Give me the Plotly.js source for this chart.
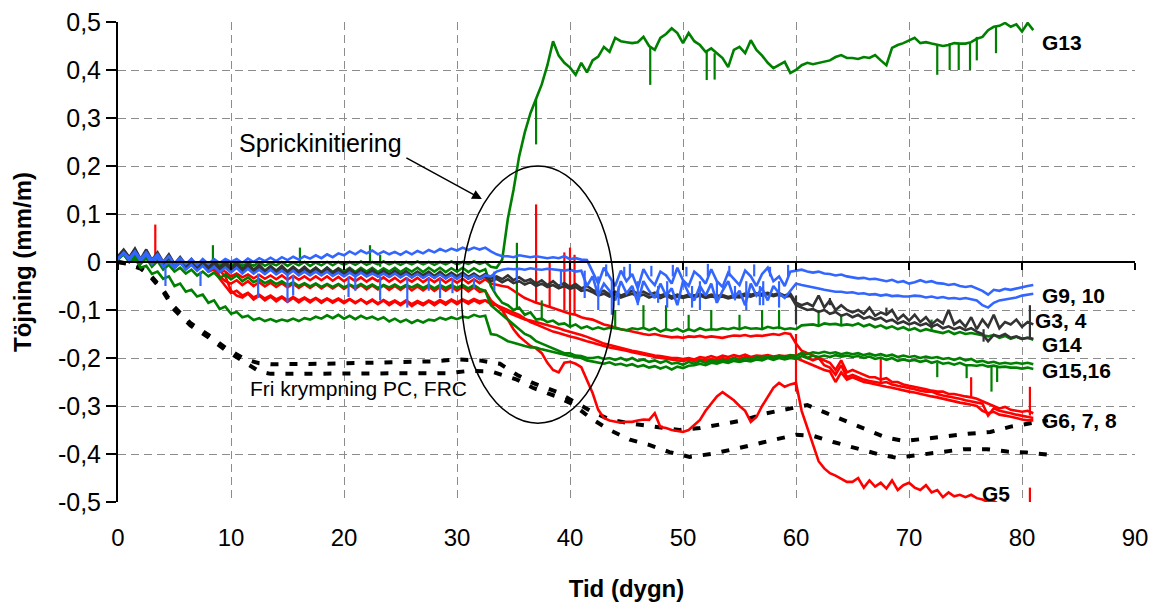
<!DOCTYPE html>
<html>
<head>
<meta charset="utf-8">
<script src="https://cdn.plot.ly/plotly-3.0.1.min.js"></script>
<style>html,body{margin:0;padding:0;background:#fff;}#chart{width:1157px;height:605px;}</style>
</head>
<body>
<div id="chart"></div>
<script>
// time axis (days)
const t = [0,0.5,1,1.5,2,2.5,3,3.5,4,4.5,5,5.5,6,6.5,7,7.5,8,8.5,9,9.5,10,10.5,11,11.5,12,12.5,13,13.5,14,14.5,15,15.5,16,16.5,17,17.5,18,18.5,19,19.5,20,20.5,21,21.5,22,22.5,23,23.5,24,24.5,25,25.5,26,26.5,27,27.5,28,28.5,29,29.5,30,30.5,31,31.5,32,32.5,33,33.5,34,34.5,35,35.5,36,36.5,37,37.5,38,38.5,39,39.5,40,40.5,41,41.5,42,42.5,43,43.5,44,44.5,45,45.5,46,46.5,47,47.5,48,48.5,49,49.5,50,50.5,51,51.5,52,52.5,53,53.5,54,54.5,55,55.5,56,56.5,57,57.5,58,58.5,59,59.5,60,60.5,61,61.5,62,62.5,63,63.5,64,64.5,65,65.5,66,66.5,67,67.5,68,68.5,69,69.5,70,70.5,71,71.5,72,72.5,73,73.5,74,74.5,75,75.5,76,76.5,77,77.5,78,78.5,79,79.5,80,80.5,81];

const G9 = [.005,.02,.008,.022,.006,.02,.004,.016,0,.012,
-.004,.008,-.004,.006,-.006,.006,-.004,.006,-.002,.006,
0,.006,-.002,.007,0,.008,.002,.009,.002,.01,
.004,.011,.005,.012,.007,.014,.008,.016,.01,.018,
.014,.022,.016,.024,.018,.024,.016,.022,.016,.021,
.015,.022,.016,.023,.018,.025,.02,.027,.022,.028,
.024,.03,.025,.03,.026,.03,.022,.016,.012,.012,
.01,.014,.012,.01,.012,.01,.008,.01,.008,.012,
.006,.008,.005,.004,-.02,-.045,-.012,-.03,-.05,-.018,
-.04,-.025,-.055,-.015,-.035,-.048,-.02,-.028,-.045,-.012,
-.038,-.05,-.02,-.03,-.045,-.015,-.04,-.052,-.022,-.035,
-.048,-.018,-.03,-.05,-.025,-.012,-.04,-.03,-.05,-.02,
-.018,-.016,-.02,-.022,-.02,-.024,-.025,-.028,-.026,-.03,
-.032,-.034,-.033,-.036,-.035,-.038,-.04,-.037,-.042,-.04,
-.045,-.042,-.038,-.042,-.04,-.044,-.045,-.048,-.046,-.05,
-.052,-.05,-.055,-.06,-.068,-.058,-.06,-.056,-.058,-.055,
-.052,-.05,-.048];

const G10 = [.008,.018,.004,.02,.002,.016,-.004,.01,-.01,0,
-.012,0,-.016,-.006,-.018,-.008,-.02,-.01,-.021,-.012,
-.022,-.012,-.024,-.014,-.024,-.016,-.025,-.016,-.026,-.018,
-.027,-.018,-.028,-.02,-.028,-.02,-.028,-.02,-.029,-.022,
-.03,-.022,-.03,-.022,-.03,-.024,-.03,-.024,-.031,-.024,
-.032,-.025,-.032,-.025,-.033,-.026,-.033,-.026,-.034,-.027,
-.035,-.026,-.034,-.028,-.035,-.028,-.03,-.02,-.016,-.014,
-.015,-.014,-.016,-.013,-.015,-.016,-.014,-.015,-.016,-.018,
-.016,-.02,-.018,-.05,-.03,-.07,-.045,-.06,-.08,-.04,
-.065,-.05,-.085,-.04,-.06,-.075,-.045,-.07,-.055,-.09,
-.04,-.065,-.08,-.05,-.07,-.045,-.085,-.06,-.04,-.075,
-.06,-.09,-.045,-.07,-.055,-.08,-.05,-.065,-.075,-.06,
-.045,-.048,-.05,-.052,-.055,-.058,-.06,-.062,-.062,-.064,
-.063,-.066,-.065,-.068,-.067,-.07,-.068,-.071,-.07,-.072,
-.072,-.07,-.071,-.074,-.072,-.075,-.073,-.076,-.075,-.077,
-.075,-.078,-.08,-.09,-.095,-.085,-.08,-.078,-.076,-.074,
-.07,-.068,-.066];

const G3 = [.012,.026,.01,.028,.006,.026,.004,.02,0,.016,
-.004,.01,-.006,.006,-.01,.004,-.012,.002,-.012,0,
-.014,-.002,-.015,-.004,-.016,-.006,-.018,-.008,-.018,-.008,
-.02,-.01,-.02,-.01,-.021,-.012,-.022,-.012,-.022,-.014,
-.024,-.014,-.024,-.016,-.025,-.016,-.026,-.018,-.026,-.018,
-.027,-.019,-.028,-.02,-.028,-.02,-.029,-.02,-.03,-.022,
-.03,-.022,-.031,-.024,-.032,-.025,-.034,-.03,-.036,-.028,
-.038,-.032,-.04,-.036,-.045,-.038,-.048,-.04,-.05,-.044,
-.052,-.046,-.055,-.05,-.058,-.064,-.06,-.068,-.062,-.07,
-.065,-.06,-.066,-.062,-.068,-.064,-.07,-.066,-.072,-.068,
-.072,-.068,-.07,-.066,-.072,-.068,-.071,-.069,-.073,-.07,
-.07,-.066,-.068,-.065,-.066,-.064,-.068,-.065,-.07,-.066,
-.085,-.09,-.086,-.092,-.07,-.095,-.08,-.1,-.09,-.1,
-.105,-.1,-.108,-.095,-.112,-.105,-.11,-.1,-.12,-.11,
-.122,-.11,-.125,-.115,-.13,-.12,-.128,-.1,-.13,-.122,
-.135,-.115,-.14,-.12,-.135,-.11,-.138,-.125,-.13,-.12,
-.135,-.125,-.13];

const G4 = [.01,.024,.008,.026,.004,.022,0,.016,-.004,.01,
-.008,.006,-.01,.002,-.014,0,-.015,-.002,-.016,-.004,
-.018,-.006,-.019,-.008,-.02,-.01,-.022,-.012,-.022,-.012,
-.024,-.014,-.024,-.014,-.025,-.016,-.026,-.016,-.026,-.018,
-.028,-.018,-.028,-.02,-.029,-.02,-.03,-.022,-.03,-.022,
-.031,-.023,-.032,-.024,-.032,-.024,-.033,-.024,-.034,-.026,
-.034,-.026,-.035,-.028,-.036,-.03,-.04,-.035,-.042,-.036,
-.044,-.04,-.047,-.042,-.05,-.045,-.052,-.048,-.055,-.05,
-.056,-.052,-.06,-.058,-.063,-.07,-.066,-.072,-.068,-.074,
-.07,-.066,-.072,-.068,-.074,-.07,-.075,-.07,-.076,-.072,
-.075,-.072,-.074,-.07,-.075,-.072,-.074,-.072,-.076,-.073,
-.074,-.07,-.072,-.068,-.07,-.067,-.071,-.068,-.073,-.07,
-.09,-.095,-.1,-.098,-.104,-.1,-.108,-.104,-.112,-.108,
-.115,-.11,-.118,-.114,-.12,-.116,-.124,-.12,-.128,-.124,
-.13,-.126,-.132,-.128,-.135,-.13,-.138,-.134,-.14,-.136,
-.142,-.138,-.145,-.15,-.165,-.152,-.155,-.15,-.158,-.155,
-.16,-.158,-.16];

const G13 = [.008,.02,.006,.022,.004,.018,.002,.014,-.002,.01,
-.004,.006,-.006,.004,-.008,.002,-.008,.002,-.008,0,
-.008,0,-.008,-.002,-.008,0,-.008,-.002,-.007,0,
-.008,-.001,-.007,0,-.008,-.001,-.007,0,-.007,0,
-.006,0,-.006,.001,-.006,0,-.005,.001,-.005,0,
-.006,0,-.005,.001,-.005,0,-.006,0,-.005,.001,
-.005,0,-.004,.001,-.004,0,-.01,-.012,.005,.09,
.15,.22,.27,.31,.34,.37,.41,.46,.43,.415,
.405,.39,.415,.395,.42,.428,.448,.438,.467,.46,
.458,.456,.458,.469,.45,.442,.467,.475,.487,.477,
.456,.477,.46,.452,.438,.445,.435,.425,.406,.442,
.448,.435,.462,.442,.43,.415,.404,.41,.417,.394,
.4,.41,.415,.412,.415,.418,.42,.427,.431,.425,
.425,.423,.427,.425,.431,.42,.41,.446,.452,.456,
.462,.467,.456,.458,.455,.452,.45,.452,.456,.455,
.455,.458,.465,.469,.483,.49,.492,.498,.49,.495,
.48,.498,.483];

const G14 = [.006,.018,.002,.018,-.002,.012,-.006,.006,-.01,.002,
-.012,-.002,-.014,-.004,-.015,-.006,-.016,-.006,-.017,-.008,
-.018,-.008,-.018,-.01,-.019,-.01,-.019,-.01,-.019,-.01,
-.02,-.012,-.02,-.012,-.02,-.012,-.021,-.012,-.021,-.013,
-.02,-.012,-.021,-.012,-.02,-.012,-.021,-.013,-.02,-.012,
-.021,-.013,-.02,-.012,-.021,-.012,-.02,-.012,-.021,-.013,
-.02,-.012,-.021,-.013,-.02,-.015,-.05,-.07,-.085,-.09,
-.1,-.095,-.11,-.105,-.12,-.118,-.125,-.122,-.13,-.128,
-.135,-.13,-.138,-.134,-.14,-.136,-.14,-.137,-.138,-.14,
-.142,-.138,-.14,-.137,-.142,-.138,-.145,-.14,-.143,-.139,
-.145,-.14,-.144,-.138,-.142,-.14,-.141,-.138,-.14,-.137,
-.14,-.136,-.139,-.138,-.14,-.135,-.138,-.136,-.14,-.138,
-.14,-.132,-.131,-.13,-.133,-.128,-.13,-.129,-.132,-.13,
-.132,-.128,-.134,-.13,-.136,-.132,-.138,-.134,-.14,-.136,
-.142,-.138,-.144,-.14,-.143,-.145,-.148,-.144,-.15,-.146,
-.15,-.148,-.15,-.153,-.155,-.152,-.158,-.154,-.16,-.156,
-.16,-.158,-.162];

const G15 = [.005,.016,0,.014,-.004,.008,-.01,.002,-.016,-.006,
-.02,-.012,-.024,-.016,-.028,-.02,-.03,-.022,-.034,-.026,
-.036,-.028,-.04,-.032,-.042,-.036,-.044,-.038,-.046,-.04,
-.048,-.042,-.05,-.044,-.051,-.045,-.052,-.046,-.052,-.046,
-.053,-.047,-.052,-.046,-.053,-.047,-.054,-.048,-.053,-.047,
-.054,-.048,-.053,-.047,-.054,-.048,-.055,-.048,-.054,-.048,
-.054,-.048,-.055,-.048,-.056,-.06,-.09,-.1,-.11,-.12,
-.13,-.14,-.15,-.155,-.165,-.17,-.175,-.18,-.185,-.19,
-.19,-.195,-.196,-.2,-.2,-.198,-.202,-.2,-.204,-.2,
-.205,-.2,-.206,-.203,-.208,-.205,-.21,-.206,-.212,-.21,
-.214,-.208,-.212,-.206,-.21,-.205,-.208,-.204,-.206,-.2,
-.205,-.2,-.203,-.198,-.2,-.196,-.2,-.195,-.198,-.194,
-.196,-.19,-.192,-.188,-.19,-.187,-.19,-.188,-.192,-.189,
-.192,-.19,-.194,-.191,-.195,-.192,-.196,-.193,-.198,-.195,
-.198,-.196,-.2,-.197,-.2,-.198,-.202,-.2,-.204,-.2,
-.205,-.202,-.208,-.206,-.21,-.208,-.212,-.21,-.212,-.21,
-.212,-.21,-.213];

const G16 = [.008,.016,0,.008,-.012,-.008,-.025,-.02,-.035,-.03,
-.05,-.045,-.062,-.058,-.072,-.068,-.085,-.08,-.098,-.093,
-.108,-.104,-.115,-.112,-.121,-.117,-.123,-.119,-.124,-.12,
-.123,-.118,-.123,-.117,-.12,-.114,-.118,-.111,-.117,-.11,
-.118,-.112,-.119,-.112,-.118,-.114,-.12,-.115,-.124,-.118,
-.125,-.12,-.127,-.121,-.126,-.12,-.122,-.116,-.12,-.115,
-.119,-.114,-.116,-.11,-.114,-.112,-.15,-.152,-.158,-.165,
-.168,-.172,-.175,-.178,-.178,-.182,-.185,-.188,-.19,-.194,
-.196,-.198,-.2,-.205,-.207,-.21,-.212,-.209,-.214,-.212,
-.216,-.213,-.218,-.215,-.22,-.217,-.222,-.218,-.224,-.218,
-.221,-.216,-.215,-.212,-.215,-.21,-.212,-.208,-.21,-.206,
-.208,-.205,-.207,-.203,-.205,-.2,-.204,-.2,-.203,-.2,
-.202,-.196,-.2,-.195,-.198,-.195,-.198,-.194,-.197,-.195,
-.198,-.196,-.2,-.197,-.202,-.199,-.204,-.2,-.206,-.203,
-.206,-.204,-.208,-.205,-.21,-.207,-.212,-.21,-.214,-.21,
-.215,-.215,-.216,-.214,-.218,-.216,-.219,-.218,-.22,-.22,
-.222,-.22,-.223];

const G5 = [.01,.022,.006,.02,.002,.016,-.002,.014,-.006,.008,
-.01,.004,-.012,.002,-.014,0,-.016,-.002,-.018,-.03,
-.06,-.07,-.074,-.066,-.078,-.07,-.08,-.072,-.082,-.074,
-.083,-.075,-.084,-.076,-.084,-.076,-.085,-.077,-.085,-.078,
-.086,-.078,-.086,-.078,-.087,-.08,-.088,-.08,-.09,-.082,
-.09,-.082,-.092,-.084,-.09,-.082,-.09,-.082,-.089,-.08,
-.088,-.08,-.087,-.08,-.086,-.08,-.088,-.09,-.1,-.12,
-.14,-.155,-.165,-.175,-.18,-.19,-.21,-.225,-.23,-.21,
-.208,-.212,-.219,-.246,-.273,-.308,-.325,-.33,-.333,-.335,
-.333,-.333,-.33,-.328,-.329,-.315,-.344,-.346,-.35,-.352,
-.354,-.35,-.34,-.329,-.31,-.294,-.28,-.271,-.28,-.288,
-.3,-.31,-.333,-.323,-.3,-.28,-.262,-.252,-.26,-.255,
-.252,-.31,-.345,-.377,-.415,-.43,-.44,-.445,-.452,-.458,
-.458,-.45,-.47,-.455,-.468,-.46,-.472,-.455,-.475,-.465,
-.46,-.47,-.475,-.465,-.48,-.475,-.49,-.48,-.488,-.485,
-.49,-.485,-.492,-.495,-.5,-.498,-.505,-.5,-.51,-.505,
-.51,-.505,-.505];

const G6 = [.01,.024,.008,.022,.004,.018,0,.012,-.004,.008,
-.008,.004,-.01,0,-.012,-.002,-.014,-.004,-.016,-.02,
-.03,-.024,-.032,-.026,-.034,-.027,-.035,-.028,-.036,-.028,
-.037,-.029,-.037,-.03,-.038,-.03,-.038,-.03,-.039,-.031,
-.04,-.032,-.04,-.032,-.041,-.033,-.04,-.032,-.041,-.033,
-.042,-.034,-.041,-.033,-.042,-.034,-.042,-.034,-.043,-.035,
-.043,-.035,-.044,-.036,-.044,-.036,-.045,-.048,-.05,-.052,
-.06,-.068,-.075,-.08,-.085,-.088,-.092,-.096,-.1,-.104,
-.108,-.11,-.115,-.118,-.12,-.125,-.13,-.133,-.137,-.14,
-.142,-.145,-.148,-.15,-.152,-.15,-.153,-.155,-.157,-.156,
-.158,-.155,-.156,-.154,-.157,-.155,-.156,-.158,-.155,-.153,
-.154,-.152,-.155,-.153,-.154,-.152,-.15,-.152,-.148,-.15,
-.17,-.185,-.19,-.195,-.2,-.205,-.21,-.225,-.205,-.23,
-.225,-.23,-.235,-.24,-.24,-.245,-.242,-.25,-.25,-.255,
-.258,-.26,-.262,-.265,-.268,-.27,-.27,-.275,-.275,-.278,
-.28,-.282,-.285,-.29,-.295,-.3,-.305,-.302,-.308,-.31,
-.312,-.31,-.315];

const G7 = [.01,.022,.006,.02,.002,.016,-.002,.01,-.006,.006,
-.01,.002,-.012,-.002,-.014,-.004,-.018,-.01,-.03,-.04,
-.045,-.038,-.048,-.04,-.05,-.042,-.051,-.043,-.052,-.044,
-.053,-.045,-.054,-.046,-.054,-.046,-.055,-.047,-.055,-.047,
-.056,-.048,-.056,-.048,-.057,-.049,-.057,-.049,-.058,-.05,
-.058,-.05,-.059,-.051,-.059,-.051,-.06,-.052,-.06,-.052,
-.06,-.052,-.061,-.053,-.062,-.06,-.08,-.09,-.1,-.105,
-.11,-.115,-.12,-.122,-.125,-.128,-.131,-.135,-.138,-.142,
-.145,-.148,-.152,-.156,-.16,-.165,-.17,-.173,-.176,-.18,
-.182,-.185,-.187,-.19,-.192,-.195,-.196,-.198,-.2,-.2,
-.202,-.2,-.203,-.198,-.2,-.196,-.2,-.195,-.198,-.194,
-.197,-.193,-.198,-.195,-.196,-.194,-.197,-.195,-.196,-.195,
-.195,-.19,-.2,-.205,-.2,-.215,-.22,-.235,-.215,-.24,
-.235,-.24,-.245,-.248,-.25,-.252,-.25,-.255,-.258,-.26,
-.262,-.265,-.268,-.27,-.27,-.275,-.278,-.28,-.282,-.285,
-.288,-.29,-.292,-.295,-.32,-.305,-.31,-.312,-.315,-.318,
-.32,-.322,-.325];

const G8 = [.012,.02,.004,.018,0,.014,-.004,.008,-.008,.004,
-.012,0,-.014,-.004,-.016,-.006,-.02,-.015,-.035,-.05,
-.065,-.06,-.07,-.064,-.074,-.068,-.076,-.07,-.078,-.072,
-.08,-.073,-.08,-.074,-.081,-.075,-.082,-.076,-.082,-.076,
-.083,-.077,-.084,-.078,-.085,-.078,-.086,-.079,-.086,-.08,
-.087,-.08,-.088,-.081,-.087,-.08,-.086,-.079,-.085,-.078,
-.084,-.078,-.083,-.077,-.082,-.08,-.085,-.09,-.095,-.1,
-.105,-.11,-.118,-.125,-.13,-.135,-.14,-.145,-.148,-.152,
-.155,-.158,-.162,-.165,-.168,-.172,-.175,-.178,-.18,-.183,
-.185,-.188,-.19,-.193,-.195,-.198,-.2,-.202,-.204,-.205,
-.206,-.204,-.206,-.203,-.205,-.202,-.204,-.2,-.203,-.2,
-.202,-.198,-.2,-.197,-.2,-.198,-.2,-.196,-.199,-.197,
-.2,-.205,-.21,-.215,-.22,-.225,-.228,-.25,-.23,-.245,
-.24,-.245,-.25,-.252,-.255,-.258,-.26,-.262,-.265,-.268,
-.27,-.272,-.275,-.278,-.28,-.282,-.285,-.288,-.29,-.293,
-.295,-.298,-.3,-.31,-.315,-.312,-.318,-.32,-.322,-.325,
-.328,-.33,-.33];

// free shrinkage (dashed)
const pcX = [0,1,2,2.7,4,5,6.4,8,9.6,11.2,12.5,13.5,18,24,28,30,32,33.8,35.3,36.7,38.8,40.3,41.8,43.5,45.5,47.5,49.7,51.5,53.3,55.3,57.4,59.5,61,62.7,64.5,66.3,68,69.6,71.6,73.4,75.2,77.2,79,81,82.3];
const pcY = [0,-.004,-.012,-.023,-.058,-.094,-.127,-.152,-.18,-.202,-.211,-.213,-.212,-.21,-.207,-.203,-.205,-.212,-.235,-.252,-.27,-.29,-.31,-.328,-.337,-.343,-.35,-.346,-.338,-.33,-.315,-.304,-.298,-.315,-.333,-.35,-.366,-.373,-.367,-.362,-.358,-.354,-.343,-.335,-.33];
const frcX = [0,1,2,2.7,4,5,6.4,8,9.6,11.2,12.5,13.5,18,24,29,31,33,35.3,36.7,38.8,40.3,41.8,43.5,45.3,47,48.8,50.6,52.5,54.5,56.5,58.5,60,61.5,63.3,65.4,67.2,68.9,71,72.7,74.8,76.9,78.7,80.4,82.5];
const frcY = [0,-.005,-.014,-.026,-.062,-.1,-.132,-.157,-.185,-.21,-.228,-.233,-.232,-.232,-.232,-.227,-.228,-.245,-.262,-.28,-.297,-.325,-.35,-.37,-.381,-.396,-.406,-.4,-.39,-.38,-.368,-.36,-.362,-.375,-.388,-.4,-.408,-.402,-.396,-.39,-.39,-.395,-.397,-.402];

// single-sample spikes
const blueSpX = [4.2,7.3,12.4,15,15.5,20.4,21,23.2,25.6,27.5,28.5,29.6,31.5,33.3,35.3,39.2,41.3,42.5,43.7,46,48.6,51.5,53,55.6,57.1,58.5,43.2,44.8,45.3,47.2,49.1,50.3,52.2,54.1,56.3,57.7,59.3,44.3,47.8,50.8,54.6,56.8];
const blueSpFrom = [-.012,-.02,-.024,-.027,-.027,-.03,-.03,-.03,-.032,-.033,-.034,-.034,-.035,-.02,-.015,-.016,-.018,-.03,-.04,-.04,-.04,-.04,-.04,-.04,-.04,-.04,-.03,-.03,-.03,-.03,-.03,-.03,-.03,-.03,-.03,-.03,-.03,-.05,-.05,-.05,-.05,-.05];
const blueSpTo = [-.05,-.05,-.075,-.085,-.07,-.073,-.06,-.08,-.095,-.06,-.075,-.065,-.055,-.06,-.04,-.05,-.075,-.1,-.11,-.09,-.095,-.1,-.085,-.1,-.09,-.095,-.005,-.01,-.004,-.008,-.006,-.01,-.004,-.008,-.005,-.01,-.006,-.09,-.085,-.095,-.08,-.09];
const greenSpX = [8.4,16.1,22.3,23.2,35.3,37.5,40,44,46.5,48.5,50.5,52.5,55,57,58.5,62,64,72,37,47.1,52.1,52.8,72.5,73.6,74.4,75.4,76,77.7,72.5,75.1,77.3,77.8];
const greenSpFrom = [-.005,-.005,-.005,-.01,-.1,-.122,-.135,-.14,-.14,-.142,-.142,-.142,-.14,-.14,-.14,-.131,-.13,-.144,.34,.45,.438,.435,.452,.456,.456,.458,.469,.49,-.21,-.214,-.216,-.218];
const greenSpTo = [.035,.03,.035,.015,.04,-.08,-.11,-.1,-.09,-.09,-.11,-.1,-.11,-.1,-.1,-.1,-.11,-.12,.245,.369,.379,.38,.39,.40,.40,.40,.42,.435,-.24,-.242,-.27,-.25];
const redSpX = [3.3,37,38.2,39.5,40,40.4,60,67.5,75.5,80.7,80.7];
const redSpFrom = [0,-.085,-.092,-.1,-.108,-.11,-.15,-.25,-.28,-.32,-.5];
const redSpTo = [.078,.12,0,.02,.03,.015,-.27,-.2,-.24,-.26,-.47];
const darkSpX = [60,63,68,76.6,80.7];
const darkSpFrom = [-.07,-.09,-.11,-.14,-.16];
const darkSpTo = [-.13,-.075,-.095,-.166,-.09];

// ticks
const yTickVals = [-0.5,-0.4,-0.3,-0.2,-0.1,0,0.1,0.2,0.3,0.4,0.5];
const yTickText = ['-0,5','-0,4','-0,3','-0,2','-0,1','0','0,1','0,2','0,3','0,4','0,5'];
const xTickVals = [0,10,20,30,40,50,60,70,80,90];
const xTickText = ['0','10','20','30','40','50','60','70','80','90'];

const BLUE = '#3366FF', GREEN = '#008000', RED = '#FF0000', DARK = '#333333';
const LW = 2.6;

function line(y, color) {
  return {x: t, y: y, type: 'scatter', mode: 'lines', line: {color: color, width: LW}, hoverinfo: 'skip'};
}
function spikes(xs, a, b, color) {
  const x = [], y = [];
  for (let i = 0; i < xs.length; i++) { x.push(xs[i], xs[i], null); y.push(a[i], b[i], null); }
  return {x: x, y: y, type: 'scatter', mode: 'lines', line: {color: color, width: 2.2}, hoverinfo: 'skip'};
}
function dashed(x, y) {
  return {x: x, y: y, type: 'scatter', mode: 'lines', line: {color: '#000', width: 4, dash: '8px,11px'}, hoverinfo: 'skip'};
}

const data = [
  dashed(pcX, pcY), dashed(frcX, frcY),
  line(G5, RED), line(G6, RED), line(G7, RED), line(G8, RED), spikes(redSpX, redSpFrom, redSpTo, RED),
  line(G14, GREEN), line(G15, GREEN), line(G16, GREEN), line(G13, GREEN), spikes(greenSpX, greenSpFrom, greenSpTo, GREEN),
  line(G3, DARK), line(G4, DARK), spikes(darkSpX, darkSpFrom, darkSpTo, DARK),
  line(G10, BLUE), line(G9, BLUE), spikes(blueSpX, blueSpFrom, blueSpTo, BLUE),
  {x: [0], y: [0], xaxis: 'x2', type: 'scatter', mode: 'markers', marker: {opacity: 0}, hoverinfo: 'skip'}
];

const FONT = 'Arial, "Liberation Sans", sans-serif';
const labelFont = {family: FONT, size: 21, color: '#000', weight: 'bold'};

const layout = {
  width: 1157, height: 605,
  margin: {l: 118, r: 22, t: 22, b: 103},
  paper_bgcolor: '#fff', plot_bgcolor: '#fff',
  showlegend: false,
  font: {family: FONT, color: '#000'},
  xaxis: {
    range: [0, 90], tickvals: xTickVals, ticktext: xTickText,
    showgrid: true, gridcolor: '#8c8c8c', gridwidth: 1, griddash: '8px,5px',
    zeroline: false, showline: false,
    ticks: 'outside', ticklen: 14, tickcolor: 'rgba(0,0,0,0)',
    tickfont: {family: FONT, size: 24, color: '#000'},
    title: {text: 'Tid (dygn)', font: {family: FONT, size: 24, weight: 'bold', color: '#000'}, standoff: 30}
  },
  xaxis2: {
    overlaying: 'x', anchor: 'free', position: 0.5, side: 'bottom',
    range: [0, 90], tickvals: xTickVals,
    showline: true, linecolor: '#000', linewidth: 2,
    ticks: 'outside', ticklen: 7, tickwidth: 2, tickcolor: '#000',
    showticklabels: false, showgrid: false, zeroline: false
  },
  yaxis: {
    range: [-0.5, 0.5], tickvals: yTickVals, ticktext: yTickText,
    showgrid: true, gridcolor: '#8c8c8c', gridwidth: 1, griddash: '8px,5px',
    zeroline: false, showline: true, linecolor: '#000', linewidth: 2,
    ticks: 'outside', ticklen: 10, tickwidth: 2, tickcolor: '#000',
    tickfont: {family: FONT, size: 25, color: '#000'},
    title: {text: 'Töjning (mm/m)', font: {family: FONT, size: 24, weight: 'bold', color: '#000'}, standoff: 20}
  },
  shapes: [
    {type: 'circle', xref: 'x', yref: 'y', x0: 30.4, x1: 43.9, y0: -0.336, y1: 0.2, line: {color: '#000', width: 1.5}}
  ],
  annotations: [
    {x: 17.9, y: 0.248, xref: 'x', yref: 'y', text: 'Sprickinitiering', showarrow: false, font: {family: FONT, size: 25, color: '#000'}},
    {x: 32.2, y: 0.131, xref: 'x', yref: 'y', text: '', showarrow: true, ax: -77, ay: -42, arrowhead: 2, arrowsize: 1.3, arrowwidth: 1.5, arrowcolor: '#000'},
    {x: 21.3, y: -0.2625, xref: 'x', yref: 'y', text: 'Fri krympning PC, FRC', showarrow: false, font: {family: FONT, size: 21, color: '#000'}},
    {x: 81.6, y: 0.458, xref: 'x', yref: 'y', xanchor: 'left', text: 'G13', showarrow: false, font: labelFont},
    {x: 81.6, y: -0.07, xref: 'x', yref: 'y', xanchor: 'left', text: 'G9, 10', showarrow: false, font: labelFont},
    {x: 81.0, y: -0.122, xref: 'x', yref: 'y', xanchor: 'left', text: 'G3, 4', showarrow: false, font: labelFont},
    {x: 81.6, y: -0.172, xref: 'x', yref: 'y', xanchor: 'left', text: 'G14', showarrow: false, font: labelFont},
    {x: 81.6, y: -0.225, xref: 'x', yref: 'y', xanchor: 'left', text: 'G15,16', showarrow: false, font: labelFont},
    {x: 81.6, y: -0.331, xref: 'x', yref: 'y', xanchor: 'left', text: 'G6, 7, 8', showarrow: false, font: labelFont},
    {x: 76.3, y: -0.483, xref: 'x', yref: 'y', xanchor: 'left', text: 'G5', showarrow: false, font: labelFont}
  ]
};

Plotly.newPlot('chart', data, layout, {staticPlot: true, displayModeBar: false});
</script>
</body>
</html>
